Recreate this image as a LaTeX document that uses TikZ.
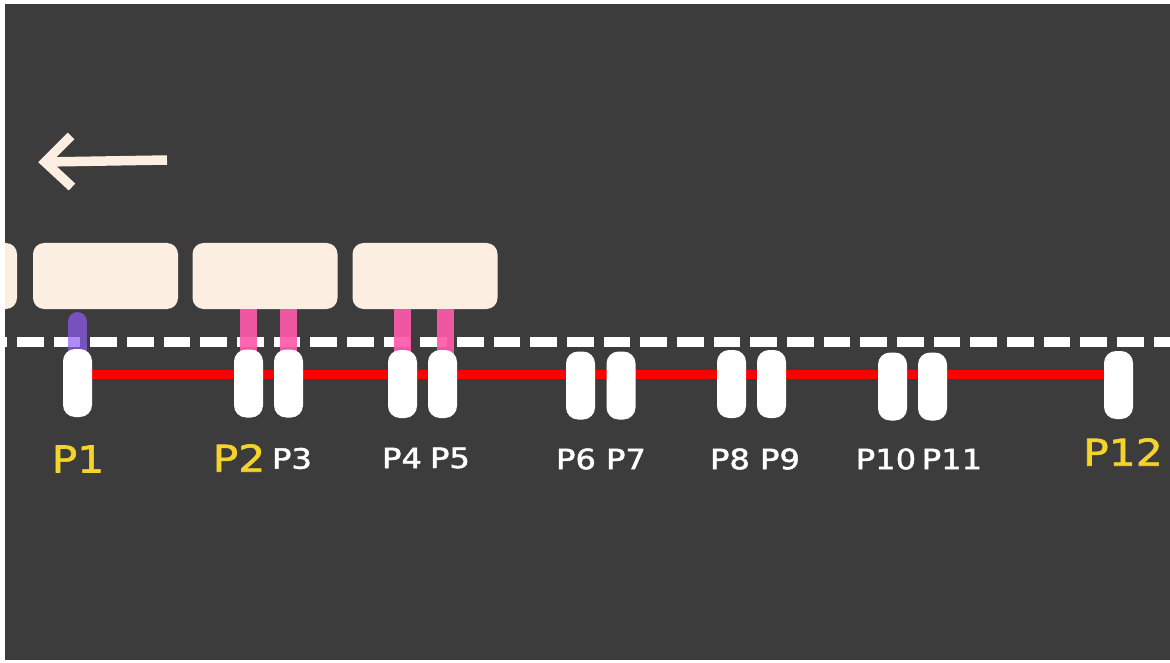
\documentclass[tikz,border=0pt]{standalone}
\usepackage{fontspec}
\newfontfamily\lblfont{DejaVu Sans}[FakeStretch=1.15, FakeBold=1.6]
\usetikzlibrary{calc}
\definecolor{bgdark}{HTML}{3C3C3C}
\definecolor{cream}{HTML}{FCEFE2}
\definecolor{lblyellow}{HTML}{F4D32A}
\definecolor{pinkc}{RGB}{255,90,172}
\definecolor{purplec}{RGB}{145,90,245}
\tikzset{
  car/.style={fill=cream, rounded corners=11pt, minimum width=145pt, minimum height=66pt, inner sep=0pt},
  post/.style={fill=white, rounded corners=12pt, minimum width=29pt, minimum height=68pt, inner sep=0pt},
  dashline/.style={white, line width=9.5pt, dash pattern=on 26.67pt off 10pt},
  redline/.style={red, line width=9pt},
  pinkbar/.style={pinkc, opacity=0.92, line width=17pt},
  purplebar/.style={purplec, opacity=0.7, line width=19pt, line cap=round},
  arrowline/.style={cream, line width=9.5pt, miter limit=10},
  lblw/.style={text=white, inner sep=0pt, font=\lblfont\fontsize{28}{30}\selectfont},
  lbly/.style={text=lblyellow, inner sep=0pt, font=\lblfont\fontsize{37}{40}\selectfont},
}
\begin{document}
\begin{tikzpicture}[x=1pt, y=-1pt]
\useasboundingbox (0,0) rectangle (1170,663);
\fill[white] (0,0) rectangle (1170,663);
\begin{scope}
\clip (5,4) rectangle (1170,660);
\fill[bgdark] (5,4) rectangle (1170,660);
% arrow
\coordinate (atail) at (167,160);
\coordinate (ahead) at (45,162);
\draw[arrowline] (atail) -- (ahead);
\draw[arrowline] (71,136) -- (ahead) -- (72,187);
% cars
\node[car] (C0) at (-55.5,276) {};
\node[car] (C1) at (105.5,276) {};
\node[car] (C2) at (265,276) {};
\node[car] (C3) at (425,276) {};
% post centres
\coordinate (p1) at (77.5,383);
\coordinate (p2) at (248.5,383.5);
\coordinate (p3) at (288.5,383.5);
\coordinate (p4) at (402.5,384);
\coordinate (p5) at (442.5,384);
\coordinate (p6) at (580.5,385.5);
\coordinate (p7) at (621,385.5);
\coordinate (p8) at (731.5,384);
\coordinate (p9) at (771.5,384);
\coordinate (p10) at (892.5,386.5);
\coordinate (p11) at (932.5,386.5);
\coordinate (p12) at (1118.5,385);
\coordinate (r) at (0,374);
% dashed line
\draw[dashline] (-19.67,342) -- (1190,342);
% red line
\draw[redline] (p1 |- r) -- (p12 |- r);
% bars
\draw[pinkbar] (p2 |- C2.south) -- (p2);
\draw[pinkbar] (p3 |- C2.south) -- (p3);
\draw[pinkbar] (p4 |- C3.south) -- (p4);
\draw[pinkbar] ($(p5 |- C3.south)+(3,0)$) -- ($(p5)+(3,0)$);
\draw[purplebar] (77.5,321.5) -- (p1);
% posts
\foreach \i in {1,...,12} {
  \node[post] (P\i) at (p\i) {};
}
% labels
\node[lbly] (L1) at (78,459) {P1};
\node[lbly] (L2) at (239,458) {P2};
\node[lblw] (L3) at (292,458.5) {P3};
\node[lblw] (L4) at (402,458) {P4};
\node[lblw] (L5) at (450,458) {P5};
\node[lblw] (L6) at (576,459) {P6};
\node[lblw] (L7) at (626,459) {P7};
\node[lblw] (L8) at (730,459) {P8};
\node[lblw] (L9) at (780,459) {P9};
\node[lblw] (L10) at (886,459) {P10};
\node[lblw] (L11) at (952,459) {P11};
\node[lbly] (L12) at (1123,452) {P12};
\end{scope}
\end{tikzpicture}
\end{document}
